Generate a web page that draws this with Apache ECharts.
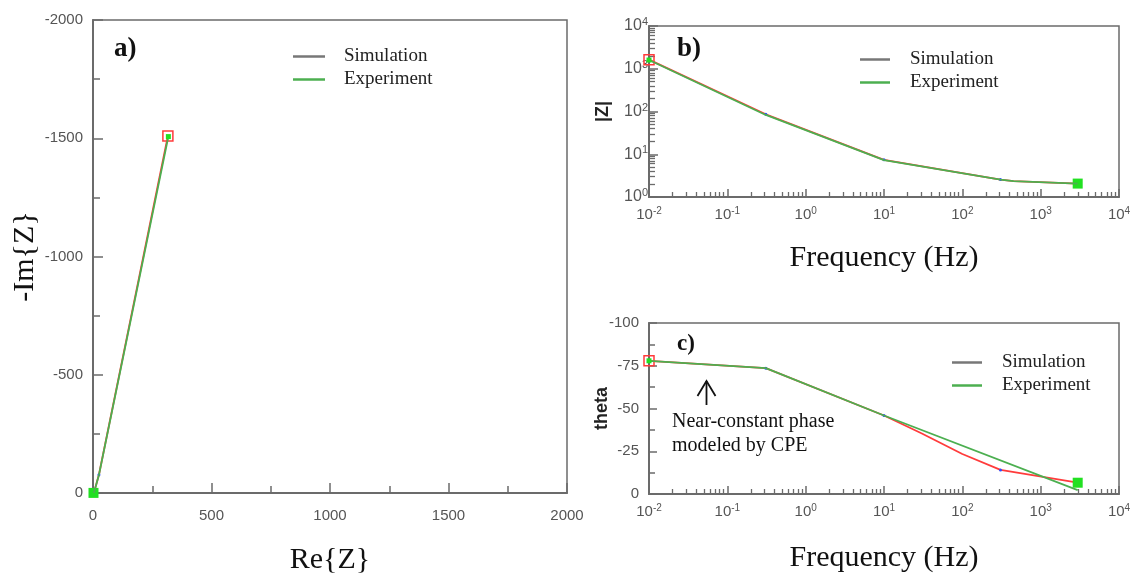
<!DOCTYPE html>
<html><head><meta charset="utf-8">
<script src="https://cdn.jsdelivr.net/npm/echarts@6/dist/echarts.min.js"></script>
<style>html,body{margin:0;padding:0;background:#fff}#c{width:1132px;height:573px}</style>
</head><body><div id="c"></div>
<script>
// ---------------- data ----------------
// Nyquist (panel a)
const reExp = [318, 25, 5.2, 2.4, 2.1];
const imExp = [-1507, -76, -5.3, -0.6, -0.2];
const reSim = [316, 25, 5.1, 2.5, 2.1];
const imSim = [-1510, -77, -5.1, -0.7, -0.4];
// Bode |Z| (panel b)
const freqZExp = [0.01, 0.31, 10, 307, 450, 2970];
const zExp = [1600, 83, 7.3, 2.56, 2.35, 2.06];
const freqZSim = [0.01, 0.31, 10, 307, 450, 2970];
const zSim = [1630, 86, 7.4, 2.56, 2.35, 2.06];
// Bode phase (panel c)
const freqThExp = [0.01, 0.31, 10, 2970];
const thExp = [-77.9, -73.6, -45.9, -2.3];
const freqThSim = [0.01, 0.31, 10, 30, 100, 307, 2970];
const thSim = [-77.9, -73.6, -45.9, -35.5, -23.4, -14.1, -6.6];
const vertexFreq = [0.31, 10, 307];
// tick values
const freqTicks = [0.01, 0.1, 1, 10, 100, 1000, 10000];
const zTicks = [1, 10, 100, 1000, 10000];
const minorMult = [2, 3, 4, 5, 6, 7, 8, 9];
const legendNames = ['Simulation', 'Experiment'];

// ---------------- styles ----------------
const SERIF = '"Liberation Serif","Times New Roman",serif';
const SANS = '"Liberation Sans",Arial,sans-serif';
const AX = '#6b6b6b';
const RED = '#ff3b3b', GREEN = '#4caf50', LIME = '#22e022', BLUE = '#2f4cff';

function minorsOf(decades) {
  const out = [];
  for (let i = 0; i < decades.length - 1; i++) minorMult.forEach(m => out.push(+(m * decades[i]).toPrecision(6)));
  return out;
}
function logLabel(v) { return '10{s|' + Math.round(Math.log10(v)) + '}'; }
function logLabelStyle(fs) {
  return {
    color: '#555', fontFamily: SANS, fontSize: fs, lineHeight: fs + 3, formatter: logLabel,
    rich: { s: { fontSize: fs - 5, color: '#555', fontFamily: SANS, verticalAlign: 'top', lineHeight: fs - 3 } }
  };
}
const valLabelStyle = { color: '#555', fontFamily: SANS, fontSize: 15, formatter: v => String(v) };
const axisLine = { show: true, onZero: false, lineStyle: { color: AX, width: 2 } };
const gridBox = { show: true, borderColor: AX, borderWidth: 1.5, backgroundColor: 'transparent', outerBoundsMode: 'none', containLabel: false };
const bigName = { fontFamily: SERIF, fontSize: 30, color: '#111' };
const smallName = { fontFamily: SANS, fontSize: 18, fontWeight: 'bold', color: '#222' };

function simData(xs, ys, isDot) {
  return xs.map((x, i) => {
    const p = { value: [x, ys[i]] };
    if (i === 0) { p.symbol = 'rect'; p.symbolSize = 10; p.itemStyle = { color: 'rgba(0,0,0,0)', borderColor: RED, borderWidth: 1.5 }; }
    else if (i === xs.length - 1) { p.symbol = 'rect'; p.symbolSize = 10; p.itemStyle = { color: LIME, borderColor: LIME, borderWidth: 0 }; }
    else if (isDot(x, i)) { p.symbol = 'circle'; p.symbolSize = 3; p.itemStyle = { color: BLUE, borderWidth: 0 }; }
    else { p.symbol = 'none'; }
    return p;
  });
}
function expData(xs, ys) {
  return xs.map((x, i) => {
    const p = { value: [x, ys[i]] };
    if (i === 0) { p.symbol = 'rect'; p.symbolSize = 5; p.itemStyle = { color: LIME, borderWidth: 0 }; }
    else p.symbol = 'none';
    return p;
  });
}
function lineSeries(name, color, xi, yi, data, z) {
  return { name, type: 'line', xAxisIndex: xi, yAxisIndex: yi, data, z, showSymbol: true,
    lineStyle: { color, width: 1.8 }, itemStyle: { color }, animation: false, silent: true };
}
function legendAt(left, top, w, pad) {
  return {
    orient: 'vertical', icon: 'rect', itemHeight: 2.5, itemGap: 4, selectedMode: false,
    left, top, itemWidth: w,
    textStyle: { fontFamily: SERIF, fontSize: 19, lineHeight: 19, color: '#222', padding: [0, 0, 0, pad] },
    data: [{ name: legendNames[0], itemStyle: { color: '#777' } }, { name: legendNames[1], itemStyle: { color: GREEN } }]
  };
}
function logXAxis(grid, gap) {
  return { gridIndex: grid, type: 'log', logBase: 10, min: 0.01, max: 10000, axisLine,
    axisTick: { inside: true, length: 8, customValues: freqTicks, lineStyle: { color: AX, width: 1.5 } },
    axisLabel: Object.assign({ margin: 9, customValues: freqTicks }, logLabelStyle(15)), splitLine: { show: false },
    name: 'Frequency (Hz)', nameLocation: 'middle', nameGap: gap, nameMoveOverlap: false, nameTextStyle: bigName };
}
function minorLogAxis(grid, isX, minVal, maxVal, ticks, len) {
  return { gridIndex: grid, type: 'log', logBase: 10, min: minVal, max: maxVal, position: isX ? 'bottom' : 'left',
    axisLine: { show: false }, axisLabel: { show: false }, splitLine: { show: false },
    axisTick: { inside: true, length: len, customValues: minorsOf(ticks), lineStyle: { color: AX, width: 1.3 } } };
}

const option = {
  backgroundColor: '#fff',
  animation: false,
  grid: [
    Object.assign({ left: 93, right: 565, top: 20, bottom: 80 }, gridBox),
    Object.assign({ left: 649, right: 13, top: 26, bottom: 376 }, gridBox),
    Object.assign({ left: 649, right: 13, top: 323, bottom: 79 }, gridBox)
  ],
  xAxis: [
    { gridIndex: 0, type: 'value', min: 0, max: 2000, interval: 500, axisLine,
      axisTick: { inside: true, length: 10, lineStyle: { color: AX, width: 1.5 } },
      minorTick: { show: true, splitNumber: 2, length: 7, lineStyle: { color: AX, width: 1.5 } },
      axisLabel: Object.assign({ margin: 15 }, valLabelStyle), splitLine: { show: false },
      name: 'Re{Z}', nameLocation: 'middle', nameGap: 52, nameMoveOverlap: false, nameTextStyle: bigName },
    logXAxis(1, 46),
    minorLogAxis(1, true, 0.01, 10000, freqTicks, 5),
    logXAxis(2, 49),
    minorLogAxis(2, true, 0.01, 10000, freqTicks, 5)
  ],
  yAxis: [
    { gridIndex: 0, type: 'value', min: -2000, max: 0, interval: 500, inverse: true, axisLine,
      axisTick: { inside: true, length: 10, lineStyle: { color: AX, width: 1.5 } },
      minorTick: { show: true, splitNumber: 2, length: 7, lineStyle: { color: AX, width: 1.5 } },
      axisLabel: Object.assign({ margin: 10 }, valLabelStyle), splitLine: { show: false },
      name: '-Im{Z}', nameLocation: 'middle', nameRotate: 90, nameGap: 53, nameMoveOverlap: false, nameTextStyle: bigName },
    { gridIndex: 1, type: 'log', logBase: 10, min: 1, max: 10000, axisLine,
      axisTick: { inside: true, length: 9, customValues: zTicks, lineStyle: { color: AX, width: 1.5 } },
      axisLabel: Object.assign({ margin: 1, customValues: zTicks }, logLabelStyle(16)), splitLine: { show: false },
      name: '|Z|', nameLocation: 'middle', nameRotate: 90, nameGap: 37, nameMoveOverlap: false, nameTextStyle: smallName },
    minorLogAxis(1, false, 1, 10000, zTicks, 6),
    { gridIndex: 2, type: 'value', min: -100, max: 0, interval: 25, inverse: true, axisLine,
      axisTick: { inside: true, length: 8, lineStyle: { color: AX, width: 1.5 } },
      minorTick: { show: true, splitNumber: 2, length: 6, lineStyle: { color: AX, width: 1.5 } },
      axisLabel: Object.assign({ margin: 10 }, valLabelStyle), splitLine: { show: false },
      name: 'theta', nameLocation: 'middle', nameRotate: 90, nameGap: 38, nameMoveOverlap: false, nameTextStyle: smallName }
  ],
  legend: [
    legendAt(288, 42, 32, 14),
    legendAt(855, 45, 30, 15),
    legendAt(947, 348, 30, 15)
  ],
  series: [
    lineSeries('Simulation', RED, 0, 0, simData(reSim, imSim, () => true), 3),
    lineSeries('Experiment', GREEN, 0, 0, expData(reExp, imExp), 4),
    lineSeries('Simulation', RED, 1, 1, simData(freqZSim, zSim, x => vertexFreq.includes(x)), 3),
    lineSeries('Experiment', GREEN, 1, 1, expData(freqZExp, zExp), 4),
    lineSeries('Simulation', RED, 3, 3, simData(freqThSim, thSim, x => vertexFreq.includes(x)), 3),
    lineSeries('Experiment', GREEN, 3, 3, expData(freqThExp, thExp), 4)
  ],
  graphic: [
    { type: 'text', left: 114, top: 36, style: { text: 'a)', fontFamily: SERIF, fontSize: 27, fontWeight: 'bold', fill: '#111' } },
    { type: 'text', left: 677, top: 36, style: { text: 'b)', fontFamily: SERIF, fontSize: 27, fontWeight: 'bold', fill: '#111' } },
    { type: 'text', left: 677, top: 333, style: { text: 'c)', fontFamily: SERIF, fontSize: 23, fontWeight: 'bold', fill: '#111' } },
    { type: 'text', left: 672, top: 410, style: { text: 'Near-constant phase\nmodeled by CPE', fontFamily: SERIF, fontSize: 20, lineHeight: 24, fill: '#111' } },
    { type: 'line', shape: { x1: 706.5, y1: 405, x2: 706.5, y2: 381 }, style: { stroke: '#111', lineWidth: 1.8 } },
    { type: 'polyline', shape: { points: [[697.5, 396], [706.5, 381], [715.5, 396]] }, style: { stroke: '#111', lineWidth: 1.8, fill: null } }
  ]
};
const chart = echarts.init(document.getElementById('c'));
chart.setOption(option);
</script>
</body></html>
